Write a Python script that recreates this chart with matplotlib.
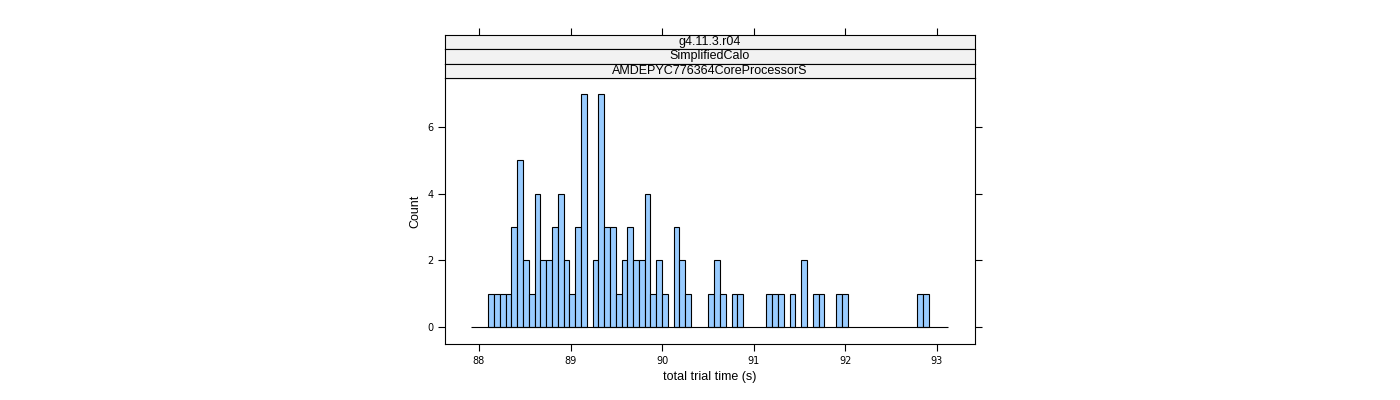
import matplotlib
matplotlib.use("Agg")
import matplotlib.pyplot as plt
import numpy as np

bin_start = 88.10
bin_width = 0.0633
counts = [1,1,1,1,3,5,2,1,4,2,2,3,4,2,1,3,7,0,2,7,3,3,1,2,3,2,2,4,1,2,1,0,3,2,1,
          0,0,0,1,2,1,0,1,1,0,0,0,0,1,1,1,0,1,0,2,0,1,1,0,0,1,1,
          0,0,0,0,0,0,0,0,0,0,0,0,1,1]
base_range = [87.91, 93.12]
strips = ["g4.11.3.r04", "SimplifiedCalo", "AMDEPYC776364CoreProcessorS"]
xticks = [88, 89, 90, 91, 92, 93]
yticks = [0, 2, 4, 6]

fig = plt.figure(figsize=(14, 4), dpi=100)
L, W = 445/1400, 530/1400
ax = fig.add_axes([L, 56/400, W, 266/400])
edges = bin_start + bin_width*np.arange(len(counts))
c = np.array(counts)
m = c > 0
ax.bar(edges[m], c[m], width=bin_width, align='edge', color='#99CCFF', edgecolor='black', linewidth=0.8)
ax.hlines(0, base_range[0], base_range[1], color='black', linewidth=0.8)
ax.set_xlim(87.629, 93.415)
ax.set_ylim(-0.51, 7.47)
ax.set_xticks(xticks)
ax.set_yticks(yticks)
ax.tick_params(axis='both', direction='out', labelsize=7, length=5, width=0.8)
ax.tick_params(axis='y', right=True)
ax.set_xlabel("total trial time (s)", fontsize=9, family="Liberation Sans")
ax.set_ylabel("Count", fontsize=9, family="Liberation Sans")
for s in ax.spines.values():
    s.set_linewidth(0.8)

h = 43/3/400
for i, t in enumerate(strips):
    b = (400-78)/400 + (2-i)*h
    sa = fig.add_axes([L, b, W, h])
    sa.set_facecolor('#F2F2F2')
    sa.set_xlim(ax.get_xlim())
    sa.set_yticks([])
    if i == 0:
        sa.set_xticks(xticks)
        sa.tick_params(axis='x', top=True, bottom=False, labeltop=False, labelbottom=False, direction='out', length=5, width=0.8)
    else:
        sa.set_xticks([])
    for s in sa.spines.values():
        s.set_linewidth(0.8)
    sa.text(0.5, 0.5, t, transform=sa.transAxes, ha='center', va='center', fontsize=9, family="Liberation Sans")

fig.savefig("out.png", dpi=100)
